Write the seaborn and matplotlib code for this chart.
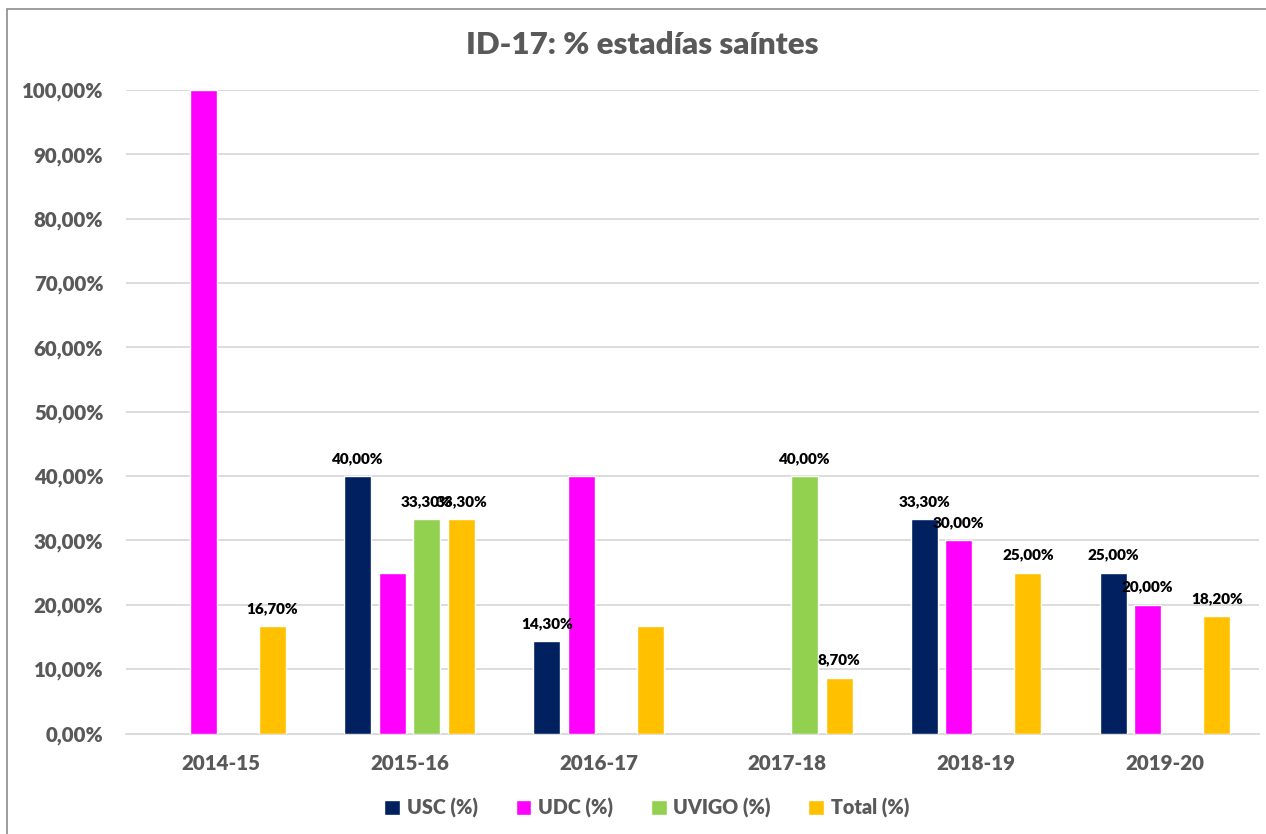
import numpy as np
import pandas as pd
import seaborn as sns
import matplotlib.pyplot as plt
from matplotlib.ticker import FuncFormatter, MultipleLocator
from matplotlib.patches import Rectangle

# values (NaN = no bar)
years = ['2014-15', '2015-16', '2016-17', '2017-18', '2018-19', '2019-20']
usc = [np.nan, 40.0, 14.3, np.nan, 33.3, 25.0]
udc = [100.0, 25.0, 40.0, np.nan, 30.0, 20.0]
uvigo = [np.nan, 33.3, np.nan, 40.0, np.nan, np.nan]
total = [16.7, 33.3, 16.7, 8.7, 25.0, 18.2]

# which bars carry a data label in the original
usc_lbl = [False, True, True, False, True, True]
udc_lbl = [False, False, False, False, True, True]
uvigo_lbl = [False, True, False, True, False, False]
total_lbl = [True, True, False, True, True, True]

series = ['USC (%)', 'UDC (%)', 'UVIGO (%)', 'Total (%)']
colors = ['#002060', '#FF00FF', '#92D050', '#FFC000']

rows = []
for name, vals, lbls in zip(series, [usc, udc, uvigo, total],
                            [usc_lbl, udc_lbl, uvigo_lbl, total_lbl]):
    for yr, v, l in zip(years, vals, lbls):
        rows.append({'year': yr, 'serie': name, 'value': v, 'label': l})
df = pd.DataFrame(rows)
plot_df = df.dropna(subset=['value'])

sns.set_style('white')
plt.rcParams['font.family'] = ['Lato', 'DejaVu Sans']

grey = '#595959'
fig = plt.figure(figsize=(12.66, 8.34), dpi=100)
ax = fig.add_axes([0.0998, 0.1205, 0.895, 0.7716])

sns.barplot(data=plot_df, x='year', y='value', hue='serie', order=years,
            hue_order=series, palette=colors, width=0.731, gap=0.217,
            saturation=1, errorbar=None, ax=ax, zorder=3)

ax.set_ylim(0, 100)
ax.set_xlim(-0.5, 5.5)
ax.yaxis.set_major_locator(MultipleLocator(10))
ax.yaxis.set_major_formatter(FuncFormatter(lambda v, p: f'{v:.2f}'.replace('.', ',') + '%'))
ax.grid(axis='y', color='#d9d9d9', linewidth=1.3, zorder=0)
ax.set_axisbelow(True)
for s in ['top', 'right', 'left']:
    ax.spines[s].set_visible(False)
ax.spines['bottom'].set_color('#d9d9d9')
ax.spines['bottom'].set_linewidth(1.3)
ax.tick_params(axis='y', length=0, labelsize=14.8, labelcolor=grey, pad=16.5)
ax.tick_params(axis='x', length=0, labelsize=14.8, labelcolor=grey, pad=15)
for t in ax.get_xticklabels() + ax.get_yticklabels():
    t.set_fontweight('heavy')
ax.set_xlabel('')
ax.set_ylabel('')

# data labels
for name, cont in zip(series, ax.containers):
    sub = df[df['serie'] == name].set_index('year')
    for bar in cont:
        h = bar.get_height()
        if np.isnan(h):
            continue
        xc = bar.get_x() + bar.get_width() / 2
        yr = years[int(round(xc))]
        if sub.loc[yr, 'label']:
            ax.annotate(f'{h:.2f}'.replace('.', ',') + '%', (xc, h),
                        xytext=(0, 8), textcoords='offset points',
                        ha='center', va='bottom', fontsize=11,
                        fontweight='heavy', color='black')

ax.legend_.remove()
handles, labels = ax.get_legend_handles_labels()
leg = fig.legend(handles, labels, loc='center', bbox_to_anchor=(0.511, 0.031),
                 ncol=4, frameon=False, fontsize=14.2, handlelength=0.8,
                 handleheight=0.8, columnspacing=1.9, handletextpad=0.35)
for t in leg.get_texts():
    t.set_color(grey)
    t.set_fontweight('heavy')

fig.text(0.507, 0.946, 'ID-17: % estadías saíntes', ha='center', va='center',
         fontsize=22.5, fontweight='heavy', color=grey)

# chart frame, only its top and left edges fall inside the picture
fig.patches.append(Rectangle((7 / 1266, -0.05), 1.1, 1.05 - 9 / 834,
                             transform=fig.transFigure, fill=False,
                             edgecolor='#8c8c8c', linewidth=1.2))

fig.savefig('out.png', dpi=100)
